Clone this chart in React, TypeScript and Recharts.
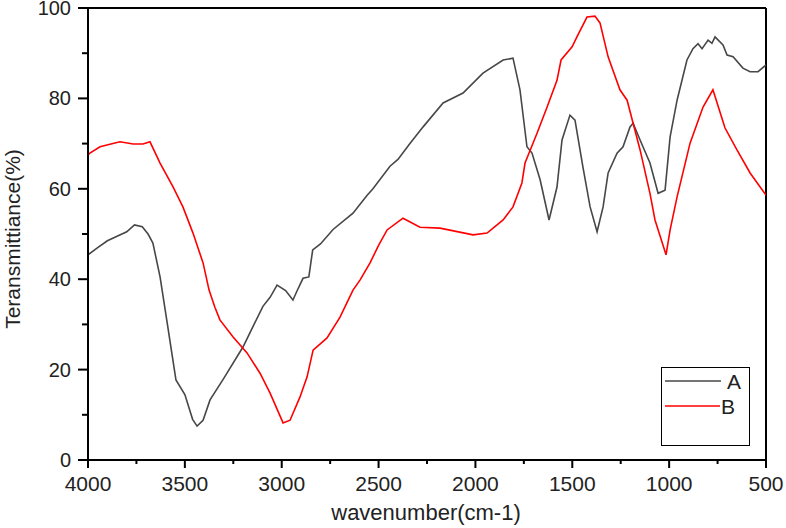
import React from 'react';
import { LineChart, Line, XAxis, YAxis, ReferenceLine } from 'recharts';

// wavenumber (cm-1), transmittance (%)
const seriesA: [number, number][] = [
  [4000, 45.4], [3950, 47], [3900, 48.5], [3850, 49.5], [3800, 50.5], [3760, 52], [3720, 51.6],
  [3690, 50], [3665, 48], [3628, 40.5], [3590, 30], [3546, 17.7], [3500, 14.5], [3460, 9],
  [3437, 7.5], [3406, 8.8], [3370, 13.3], [3300, 18], [3200, 25], [3097, 34], [3060, 36],
  [3024, 38.7], [2980, 37.5], [2942, 35.4], [2920, 37.5], [2890, 40.2], [2860, 40.5], [2840, 46.5],
  [2800, 47.8], [2735, 51], [2632, 54.6], [2560, 58.5], [2529, 60], [2441, 65], [2400, 66.5],
  [2338, 70], [2270, 73.7], [2167, 79], [2064, 81.2], [1961, 85.6], [1857, 88.5], [1806, 88.9],
  [1770, 81.9], [1734, 69.3], [1708, 67.9], [1666, 62], [1620, 53.1], [1579, 60.4], [1553, 70.8],
  [1512, 76.3], [1486, 75.2], [1445, 64.8], [1408, 56], [1372, 50.5], [1341, 56], [1315, 63.5],
  [1269, 67.9], [1238, 69.3], [1202, 73.7], [1186, 74.5], [1150, 70.8], [1099, 65.7], [1057, 59],
  [1021, 59.7], [995, 71.5], [959, 79.6], [908, 88.5], [877, 91], [851, 92.1], [830, 91],
  [799, 92.9], [779, 92.2], [763, 93.6], [722, 91.8], [701, 89.6], [670, 89.2], [619, 86.7],
  [582, 85.9], [541, 85.9], [500, 87.4],
];

const seriesB: [number, number][] = [
  [4000, 67.5], [3990, 67.9], [3938, 69.3], [3835, 70.4], [3767, 69.9], [3716, 69.9], [3680, 70.4],
  [3628, 65.7], [3561, 60.4], [3510, 56], [3458, 50.2], [3406, 43.6], [3375, 37.6], [3345, 33.8],
  [3319, 31], [3251, 27.2], [3179, 23.7], [3112, 19.2], [3060, 14.8], [2993, 8.2], [2957, 8.8],
  [2906, 13.9], [2869, 18.4], [2838, 24.3], [2766, 27], [2699, 31.6], [2632, 37.6], [2596, 39.8],
  [2544, 43.6], [2500, 47.5], [2456, 50.9], [2374, 53.5], [2286, 51.5], [2183, 51.3], [2012, 49.8],
  [1940, 50.2], [1857, 53.1], [1806, 56], [1760, 61.3], [1744, 65.7], [1682, 72.3], [1630, 78.1],
  [1579, 84], [1558, 88.5], [1501, 91.4], [1476, 93.6], [1424, 98], [1383, 98.2], [1357, 96.7],
  [1315, 89.2], [1254, 81.9], [1217, 79.6], [1186, 74.5], [1150, 68.6], [1099, 59], [1073, 53.1],
  [1016, 45.4], [995, 50.9], [959, 58.2], [892, 70.1], [825, 78.1], [774, 81.9], [712, 73.5],
  [650, 68.6], [582, 63.5], [500, 58.6],
];

const xTicks = [4000, 3750, 3500, 3250, 3000, 2750, 2500, 2250, 2000, 1750, 1500, 1250, 1000, 750, 500];
const yTicks = [0, 10, 20, 30, 40, 50, 60, 70, 80, 90, 100];

const dataA = seriesA.map(([w, t]) => ({ w, t }));
const dataB = seriesB.map(([w, t]) => ({ w, t }));

const FONT = '"Liberation Sans", Arial, sans-serif';

const XTick = (props: any) => {
  const { x, y, payload } = props;
  const major = payload.value % 500 === 0;
  return (
    <g>
      <line x1={x} x2={x} y1={y} y2={y + (major ? 8 : 4)} stroke="#000" strokeWidth={2} />
      {major && (
        <text x={x} y={y + 31} textAnchor="middle" fontSize={21} fontFamily={FONT} fill="#222">
          {payload.value}
        </text>
      )}
    </g>
  );
};

const YTick = (props: any) => {
  const { x, y, payload } = props;
  const major = payload.value % 20 === 0;
  return (
    <g>
      <line x1={x} x2={x - (major ? 10 : 6)} y1={y} y2={y} stroke="#000" strokeWidth={2} />
      {major && (
        <text x={x - 17} y={y + 7} textAnchor="end" fontSize={20} fontFamily={FONT} fill="#222">
          {payload.value}
        </text>
      )}
    </g>
  );
};

export default function App() {
  return (
    <div style={{ position: 'absolute', left: 0, top: 0, width: 786, height: 528, background: '#fff' }}>
      <LineChart width={786} height={528} margin={{ top: 8, right: 20, bottom: 8, left: 8 }}>
        <XAxis
          type="number"
          dataKey="w"
          domain={[500, 4000]}
          reversed
          ticks={xTicks}
          interval={0}
          tickSize={0}
          tickMargin={0}
          tick={<XTick />}
          axisLine={{ stroke: '#000', strokeWidth: 2 }}
          height={60}
          allowDataOverflow
        />
        <YAxis
          type="number"
          domain={[0, 100]}
          ticks={yTicks}
          interval={0}
          tickSize={0}
          tickMargin={0}
          tick={<YTick />}
          axisLine={{ stroke: '#000', strokeWidth: 2 }}
          width={80}
          allowDataOverflow
        />
        <ReferenceLine y={100} stroke="#000" strokeWidth={2} />
        <ReferenceLine x={500} stroke="#000" strokeWidth={2} />
        <Line data={dataA} dataKey="t" type="linear" stroke="#474747" strokeWidth={1.6} dot={false} isAnimationActive={false} />
        <Line data={dataB} dataKey="t" type="linear" stroke="#ff0000" strokeWidth={1.6} dot={false} isAnimationActive={false} />
      </LineChart>
      <div style={{ position: 'absolute', left: 0, top: 0, width: 786, height: 528, pointerEvents: 'none' }}>
        <svg width={786} height={528}>
          <text x={426} y={520} textAnchor="middle" fontSize={22} fontFamily={FONT} fill="#222">
            wavenumber(cm-1)
          </text>
          <text x={20} y={239} textAnchor="middle" fontSize={21} fontFamily={FONT} fill="#222" transform="rotate(-90 20 239)">
            Teransmittiance(%)
          </text>
          <rect x={661.5} y={367.5} width={88} height={78} fill="none" stroke="#000" strokeWidth={1} />
          <line x1={665} x2={721} y1={381} y2={381} stroke="#474747" strokeWidth={1.6} />
          <text x={727} y={389} fontSize={21} fontFamily={FONT} fill="#222">A</text>
          <line x1={665} x2={720} y1={406} y2={406} stroke="#ff0000" strokeWidth={1.6} />
          <text x={721} y={414} fontSize={21} fontFamily={FONT} fill="#222">B</text>
        </svg>
      </div>
    </div>
  );
}
